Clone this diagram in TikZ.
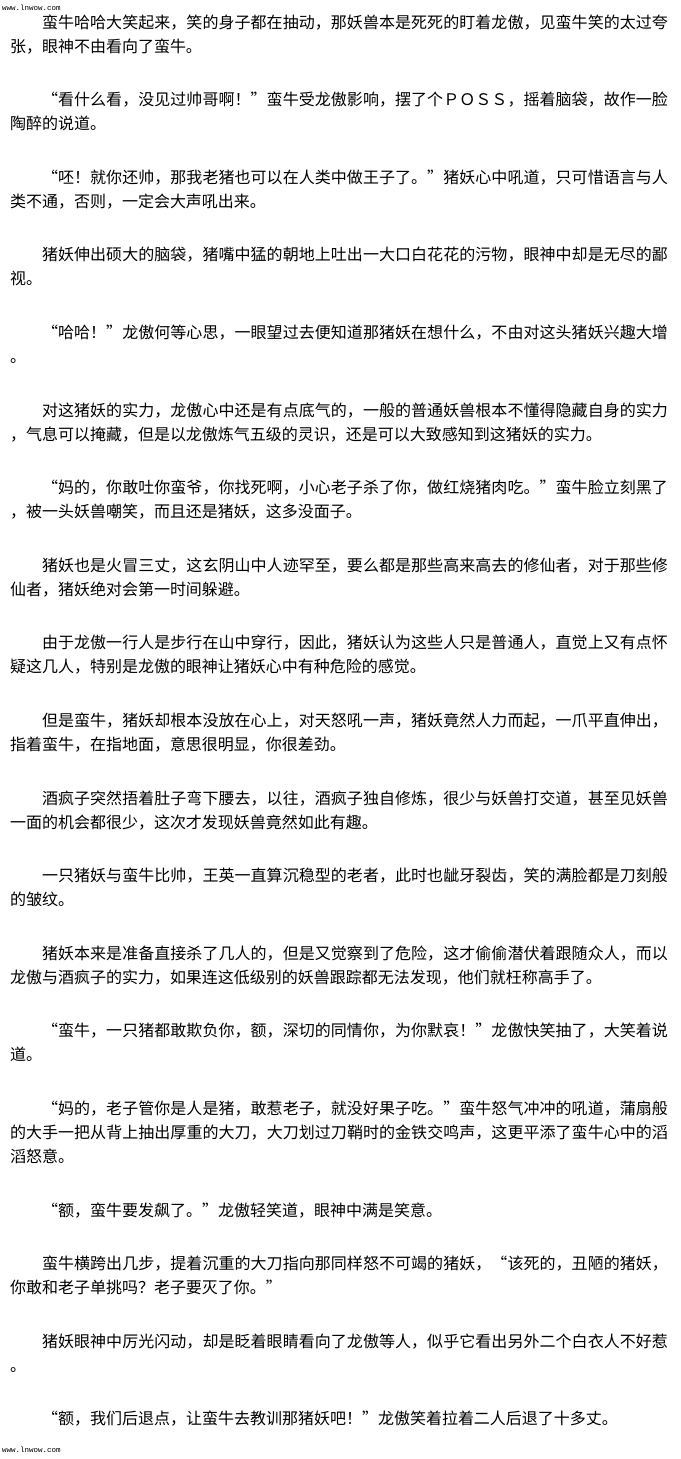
\documentclass[tikz,border=0pt]{standalone}
\usepackage{fontspec}
\setmainfont{Noto Sans CJK SC}
\newfontfamily\wmfont{Liberation Mono}
\makeatletter
\newcommand\jfill[2]{\hbox to #1{\jf@#2\@nil}}
\def\jf@#1#2{#1\ifx#2\@nil\expandafter\@gobble\else\hskip 0pt plus 1fil\expandafter\@firstofone\fi{\jf@#2}}
\makeatother
\tikzset{
  txt/.style={anchor=base west, inner sep=0pt, outer sep=0pt, font=\fontsize{16}{16}\selectfont, text=black},
  wm/.style={anchor=base west, inner sep=0pt, font=\wmfont\fontsize{7.5}{7.5}\selectfont, text=black}
}
\newcommand\fw{626pt}
\newcommand\cw{658pt}
\begin{document}
\begin{tikzpicture}[x=1pt,y=-1pt]
\useasboundingbox (0,0) rectangle (680,1459);
\fill[white] (0,0) rectangle (680,1459);
\node[wm] (wmt) at (2,10) {www.lnwow.com};
% P1
\node[txt] (p1a) at (42,28) {\jfill{\fw}{蛮牛哈哈大笑起来，笑的身子都在抽动，那妖兽本是死死的盯着龙傲，见蛮牛笑的太过夸}};
\node[txt] (p1b) at (10,52) {张，眼神不由看向了蛮牛。};
% P2
\node[txt] (p2a) at (42,105.6) {\jfill{\fw}{“看什么看，没见过帅哥啊！”蛮牛受龙傲影响，摆了个ＰＯＳＳ，摇着脑袋，故作一脸}};
\node[txt] (p2b) at (10,129.6) {陶醉的说道。};
% P3
\node[txt] (p3a) at (42,183.2) {\jfill{\fw}{“呸！就你还帅，那我老猪也可以在人类中做王子了。”猪妖心中吼道，只可惜语言与人}};
\node[txt] (p3b) at (10,207.2) {类不通，否则，一定会大声吼出来。};
% P4
\node[txt] (p4a) at (42,260.8) {\jfill{\fw}{猪妖伸出硕大的脑袋，猪嘴中猛的朝地上吐出一大口白花花的污物，眼神中却是无尽的鄙}};
\node[txt] (p4b) at (10,284.8) {视。};
% P5
\node[txt] (p5a) at (42,338.4) {\jfill{\fw}{“哈哈！”龙傲何等心思，一眼望过去便知道那猪妖在想什么，不由对这头猪妖兴趣大增}};
\node[txt] (p5b) at (10,362.4) {。};
% P6
\node[txt] (p6a) at (42,416) {\jfill{\fw}{对这猪妖的实力，龙傲心中还是有点底气的，一般的普通妖兽根本不懂得隐藏自身的实力}};
\node[txt] (p6b) at (10,440) {，气息可以掩藏，但是以龙傲炼气五级的灵识，还是可以大致感知到这猪妖的实力。};
% P7
\node[txt] (p7a) at (42,493.6) {\jfill{\fw}{“妈的，你敢吐你蛮爷，你找死啊，小心老子杀了你，做红烧猪肉吃。”蛮牛脸立刻黑了}};
\node[txt] (p7b) at (10,517.6) {，被一头妖兽嘲笑，而且还是猪妖，这多没面子。};
% P8
\node[txt] (p8a) at (42,571.2) {\jfill{\fw}{猪妖也是火冒三丈，这玄阴山中人迹罕至，要么都是那些高来高去的修仙者，对于那些修}};
\node[txt] (p8b) at (10,595.2) {仙者，猪妖绝对会第一时间躲避。};
% P9
\node[txt] (p9a) at (42,648.8) {\jfill{\fw}{由于龙傲一行人是步行在山中穿行，因此，猪妖认为这些人只是普通人，直觉上又有点怀}};
\node[txt] (p9b) at (10,672.8) {疑这几人，特别是龙傲的眼神让猪妖心中有种危险的感觉。};
% P10
\node[txt] (p10a) at (42,726.4) {\jfill{\fw}{但是蛮牛，猪妖却根本没放在心上，对天怒吼一声，猪妖竟然人力而起，一爪平直伸出，}};
\node[txt] (p10b) at (10,750.4) {指着蛮牛，在指地面，意思很明显，你很差劲。};
% P11
\node[txt] (p11a) at (42,804) {\jfill{\fw}{酒疯子突然捂着肚子弯下腰去，以往，酒疯子独自修炼，很少与妖兽打交道，甚至见妖兽}};
\node[txt] (p11b) at (10,828) {一面的机会都很少，这次才发现妖兽竟然如此有趣。};
% P12
\node[txt] (p12a) at (42,881.6) {\jfill{\fw}{一只猪妖与蛮牛比帅，王英一直算沉稳型的老者，此时也龇牙裂齿，笑的满脸都是刀刻般}};
\node[txt] (p12b) at (10,905.6) {的皱纹。};
% P13
\node[txt] (p13a) at (42,959.2) {\jfill{\fw}{猪妖本来是准备直接杀了几人的，但是又觉察到了危险，这才偷偷潜伏着跟随众人，而以}};
\node[txt] (p13b) at (10,983.2) {龙傲与酒疯子的实力，如果连这低级别的妖兽跟踪都无法发现，他们就枉称高手了。};
% P14
\node[txt] (p14a) at (42,1036.8) {\jfill{\fw}{“蛮牛，一只猪都敢欺负你，额，深切的同情你，为你默哀！”龙傲快笑抽了，大笑着说}};
\node[txt] (p14b) at (10,1060.8) {道。};
% P15
\node[txt] (p15a) at (42,1114.4) {\jfill{\fw}{“妈的，老子管你是人是猪，敢惹老子，就没好果子吃。”蛮牛怒气冲冲的吼道，蒲扇般}};
\node[txt] (p15b) at (10,1138.4) {\jfill{\cw}{的大手一把从背上抽出厚重的大刀，大刀划过刀鞘时的金铁交鸣声，这更平添了蛮牛心中的滔}};
\node[txt] (p15c) at (10,1162.4) {滔怒意。};
% P16
\node[txt] (p16a) at (42,1216) {“额，蛮牛要发飙了。”龙傲轻笑道，眼神中满是笑意。};
% P17
\node[txt] (p17a) at (42,1269.6) {\jfill{\fw}{蛮牛横跨出几步，提着沉重的大刀指向那同样怒不可竭的猪妖，“该死的，丑陋的猪妖，}};
\node[txt] (p17b) at (10,1293.6) {你敢和老子单挑吗？老子要灭了你。”};
% P18
\node[txt] (p18a) at (42,1347.2) {\jfill{\fw}{猪妖眼神中厉光闪动，却是眨着眼睛看向了龙傲等人，似乎它看出另外二个白衣人不好惹}};
\node[txt] (p18b) at (10,1371.2) {。};
% P19
\node[txt] (p19a) at (42,1424.8) {“额，我们后退点，让蛮牛去教训那猪妖吧！”龙傲笑着拉着二人后退了十多丈。};
\node[wm] (wmb) at (2,1452) {www.lnwow.com};
\end{tikzpicture}
\end{document}
